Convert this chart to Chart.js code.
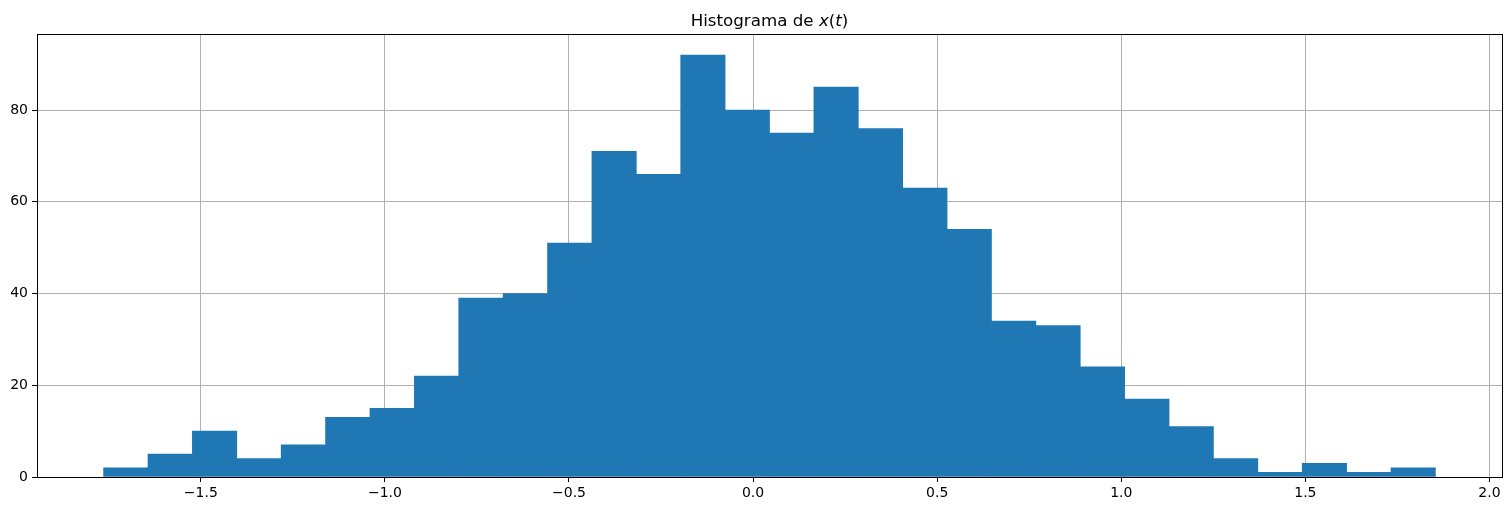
<!DOCTYPE html>
<html>
<head>
<meta charset="utf-8">
<script src="https://cdn.jsdelivr.net/npm/chart.js@4/dist/chart.umd.min.js"></script>
<style>
  html, body { margin: 0; padding: 0; background: #fff; }
  #wrap { width: 1511px; height: 511px; }
</style>
</head>
<body>
<div id="wrap"><canvas id="myChart" width="1511" height="511"></canvas></div>
<script>
// histogram: 30 bins between -1.764 and 1.853
const binStart = -1.764
const binWidth = 0.12057
const counts = [2, 5, 10, 4, 7, 13, 15, 22, 39, 40, 51, 71, 66, 92, 80, 75, 85, 76, 63, 54, 34, 33, 24, 17, 11, 4, 1, 3, 1, 2]
const xTicks = [-1.5, -1.0, -0.5, 0.0, 0.5, 1.0, 1.5, 2.0]
const yTicks = [0, 20, 40, 60, 80]

const points = counts.map((c, i) => ({ x: binStart + binWidth * (i + 0.5), y: c }))

// matplotlib style 5% margins
const xLo = binStart, xHi = binStart + binWidth * counts.length
const xPad = (xHi - xLo) * 0.05
const yMax = Math.max(...counts) * 1.05

const font = { family: 'DejaVu Sans', size: 14 }

const frameAndTitle = {
    id: 'frameAndTitle',
    afterDraw(chart) {
        const ctx = chart.ctx
        const a = chart.chartArea
        ctx.save()
        ctx.strokeStyle = '#000'
        ctx.lineWidth = 1
        ctx.strokeRect(Math.round(a.left) + 0.5, Math.round(a.top) + 0.5, Math.round(a.right - a.left), Math.round(a.bottom - a.top))
        // title "Histograma de x(t)" with italic x and t
        const parts = [
            ['Histograma de ', ''], ['x', 'italic '], ['(', ''], ['t', 'italic '], [')', '']
        ]
        const size = 16.7
        let total = 0
        parts.forEach(p => {
            ctx.font = p[1] + size + 'px "DejaVu Sans"'
            total += ctx.measureText(p[0]).width
        })
        let x = (a.left + a.right) / 2 - total / 2
        ctx.fillStyle = '#000'
        ctx.textBaseline = 'alphabetic'
        parts.forEach(p => {
            ctx.font = p[1] + size + 'px "DejaVu Sans"'
            ctx.fillText(p[0], x, 26)
            x += ctx.measureText(p[0]).width
        })
        ctx.restore()
    }
}

const chartIt = () => {
    const ctx = document.getElementById('myChart').getContext('2d')
    new Chart(ctx, {
        type: 'bar',
        data: {
            datasets: [{
                data: points,
                backgroundColor: '#1f77b4',
                borderWidth: 0,
                barPercentage: 1,
                categoryPercentage: 1,
                grouped: false,
            }]
        },
        options: {
            responsive: false,
            animation: false,
            devicePixelRatio: 1,
            layout: { padding: { top: 34, right: 9, left: 0, bottom: 0 } },
            plugins: { legend: { display: false }, tooltip: { enabled: false } },
            scales: {
                x: {
                    type: 'linear',
                    offset: false,
                    min: xLo - xPad,
                    max: xHi + xPad,
                    z: 1,
                    afterBuildTicks: s => { s.ticks = xTicks.map(v => ({ value: v })) },
                    afterFit: s => { s.height = 34 },
                    ticks: {
                        color: '#000', font, padding: 3,
                        maxRotation: 0, autoSkip: false,
                        callback: v => v.toFixed(1).replace('-', '\u2212')
                    },
                    grid: { offset: false, color: '#b0b0b0', lineWidth: 1, tickColor: '#000', tickLength: 5 },
                    border: { color: '#000', width: 1 }
                },
                y: {
                    min: 0,
                    max: yMax,
                    z: 1,
                    afterBuildTicks: s => { s.ticks = yTicks.map(v => ({ value: v })) },
                    afterFit: s => { s.width = 37 },
                    ticks: { color: '#000', font, padding: 4, callback: v => String(v) },
                    grid: { color: '#b0b0b0', lineWidth: 1, tickColor: '#000', tickLength: 5 },
                    border: { color: '#000', width: 1 }
                }
            }
        },
        plugins: [frameAndTitle]
    })
}
chartIt()
</script>
</body>
</html>
